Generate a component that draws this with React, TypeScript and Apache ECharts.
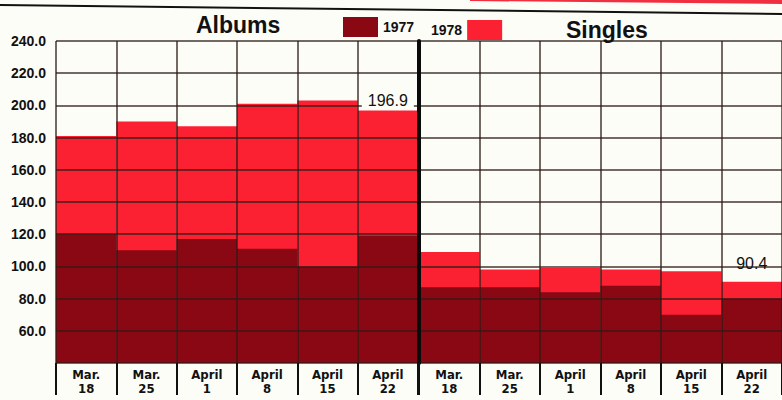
import React, { useEffect, useRef } from "react";
import * as echarts from "echarts";

const categories = ["Mar.\n18", "Mar.\n25", "April\n1", "April\n8", "April\n15", "April\n22"];
const albums1977 = [120, 110, 117, 111, 100, 119];
const albums1978 = [181, 190, 187, 201, 203, 196.9];
const singles1977 = [87, 87, 84, 88, 70, 80];
const singles1978 = [109, 98, 99, 98, 97, 90.4];
const panelTitles = ["Albums", "Singles"];
const years = ["1977", "1978"];

const DARK = "#8a0714";
const BRIGHT = "#fc2132";
const GRID = "rgba(45,28,20,0.66)";
const BG = "#fdfdf8";
const FONT = "'Liberation Sans', Arial, sans-serif";
const NARROW = "'Liberation Sans Narrow', 'DejaVu Sans Condensed', 'Liberation Sans', sans-serif";

export default function App() {
  const ref = useRef<HTMLDivElement>(null);
  useEffect(() => {
    if (!ref.current) return;
    const chart = echarts.init(ref.current, undefined, { renderer: "svg" });

    const xAxisBase = (gridIndex: number) => ({
      type: "category",
      gridIndex,
      data: categories,
      z: 3,
      axisLine: { show: false },
      axisTick: { show: true, interval: 0, length: 32, lineStyle: { color: "#111", width: 2 } },
      axisLabel: {
        interval: 0,
        margin: 4,
        fontSize: 13,
        fontWeight: "bold",
        lineHeight: 14,
        color: "#111",
        fontFamily: NARROW,
      },
      splitLine: { show: true, interval: 0, lineStyle: { color: GRID, width: 2 } },
    });

    const yAxisBase = (gridIndex: number) => ({
      type: "value",
      gridIndex,
      min: 40,
      max: 240,
      interval: 20,
      z: 3,
      axisTick: { show: false },
      splitLine: { show: true, lineStyle: { color: GRID, width: 2 } },
    });

    const noteSeries = (name: string, values: number[], idx: number, distance: number, bg: string) => ({
      name,
      type: "bar",
      xAxisIndex: idx,
      yAxisIndex: idx,
      data: values.map((v, i) => (i === values.length - 1 ? v : "-")),
      barWidth: "100%",
      barGap: "-100%",
      z: 4,
      silent: true,
      itemStyle: { color: "rgba(0,0,0,0)" },
      label: {
        show: true,
        position: "top",
        distance,
        formatter: (p: any) => Number(p.value).toFixed(1),
        fontSize: 16,
        fontFamily: FONT,
        color: "#111",
        backgroundColor: bg,
        padding: [1, 6, 0, 6],
      },
    });

    const barSeries = (name: string, values: number[], idx: number, color: string) => ({
      name,
      type: "bar",
      xAxisIndex: idx,
      yAxisIndex: idx,
      data: values,
      barWidth: "100%",
      barGap: "-100%",
      z: 2,
      itemStyle: { color },
    });

    const legendText = { fontSize: 14, fontWeight: "bold", color: "#111", fontFamily: FONT };

    chart.setOption({
      animation: false,
      backgroundColor: BG,
      title: [
        {
          text: panelTitles[0],
          left: 191,
          top: 8,
          textStyle: { fontSize: 23, fontWeight: "bold", color: "#111", fontFamily: FONT },
        },
        {
          text: panelTitles[1],
          left: 561,
          top: 13,
          textStyle: { fontSize: 23, fontWeight: "bold", color: "#111", fontFamily: FONT },
        },
      ],
      legend: [
        {
          data: [years[0]],
          left: 338,
          top: 12,
          icon: "rect",
          itemWidth: 35,
          itemHeight: 20,
          selectedMode: false,
          textStyle: legendText,
        },
        {
          data: [years[1]],
          left: 426,
          top: 15,
          align: "right",
          icon: "rect",
          itemWidth: 35,
          itemHeight: 20,
          selectedMode: false,
          textStyle: legendText,
        },
      ],
      graphic: [
        { type: "line", shape: { x1: 0, y1: 5, x2: 782, y2: 14 }, style: { stroke: "#111", lineWidth: 2 } },
        {
          type: "polygon",
          shape: { points: [[470, 0], [782, 0], [782, 4], [470, 1]] },
          style: { fill: "#f03040" },
        },
      ],
      grid: [
        { left: 56, top: 41, width: 362, bottom: 37 },
        { left: 419, top: 41, right: -4, bottom: 37 },
      ],
      xAxis: [xAxisBase(0), xAxisBase(1)],
      yAxis: [
        {
          ...yAxisBase(0),
          axisLine: { show: false },
          axisLabel: {
            formatter: (v: number) => (v === 40 ? "" : v.toFixed(1)),
            fontSize: 14,
            fontWeight: "bold",
            fontFamily: FONT,
            margin: 10,
            color: "#111",
            padding: [0, 0, 8, 0],
          },
        },
        {
          ...yAxisBase(1),
          axisLabel: { show: false },
          axisLine: { show: true, lineStyle: { color: "#0a0a0a", width: 4 } },
        },
      ],
      series: [
        barSeries(years[1], albums1978, 0, BRIGHT),
        barSeries(years[0], albums1977, 0, DARK),
        noteSeries("albumsNote", albums1978, 0, 2, BG),
        barSeries(years[1], singles1978, 1, BRIGHT),
        barSeries(years[0], singles1977, 1, DARK),
        noteSeries("singlesNote", singles1978, 1, 10, "rgba(0,0,0,0)"),
      ],
    });

    return () => chart.dispose();
  }, []);

  return (
    <div
      ref={ref}
      style={{ position: "fixed", left: 0, top: 0, width: 782, height: 400 }}
    />
  );
}
